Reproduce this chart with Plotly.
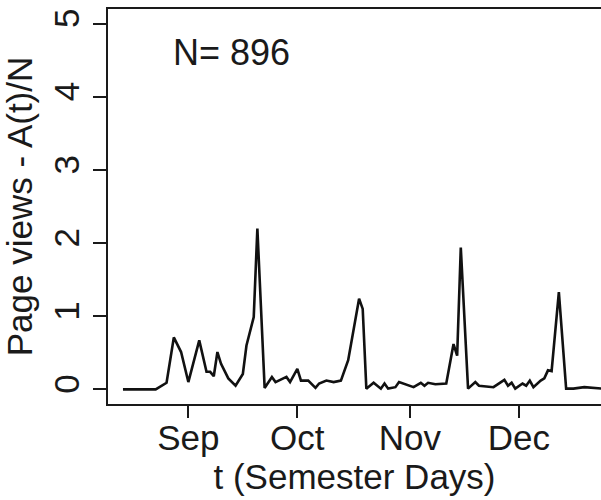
import plotly.graph_objects as go

# Day of the semester (day 0 = first recorded day) and normalised page views A(t)/N
semester_day = [0, 9, 12, 14, 16, 18, 21, 23, 24, 25, 26, 27, 29, 31, 33, 34, 36, 37,
                39, 41, 42, 45, 46, 48, 49, 51, 53, 54, 56, 58, 60, 62, 65, 66, 67,
                69, 71, 72, 73, 75, 76, 78, 80, 82, 83, 84, 86, 89, 91, 92, 93, 95,
                97, 98, 102, 105, 106, 107, 108, 110, 111, 112, 113, 115, 116, 117,
                118, 120, 122, 124, 127, 132]
views_per_n = [0.00, 0.00, 0.09, 0.71, 0.51, 0.10, 0.67, 0.24, 0.24, 0.18, 0.51, 0.35,
               0.15, 0.05, 0.21, 0.60, 0.99, 2.20, 0.02, 0.17, 0.10, 0.17, 0.10, 0.28,
               0.12, 0.12, 0.02, 0.08, 0.12, 0.10, 0.12, 0.40, 1.24, 1.10, 0.01, 0.09,
               0.01, 0.08, 0.01, 0.03, 0.10, 0.07, 0.03, 0.09, 0.05, 0.09, 0.07, 0.08,
               0.62, 0.46, 1.94, 0.01, 0.10, 0.05, 0.03, 0.13, 0.05, 0.09, 0.01, 0.08,
               0.05, 0.12, 0.03, 0.12, 0.15, 0.26, 0.25, 1.33, 0.01, 0.01, 0.03, 0.01]

# Month boundaries on the semester-day axis
month_days = [18, 48, 79, 109]
month_labels = ["Sep", "Oct", "Nov", "Dec"]
y_ticks = [0, 1, 2, 3, 4, 5]

n_students = 896

FONT = "Liberation Sans, Arial, Helvetica, sans-serif"
INK = "#1a1a1a"
FS = 35

fig = go.Figure()
fig.add_trace(go.Scatter(
    x=semester_day, y=views_per_n, mode="lines",
    line=dict(color="#111111", width=2.6),
    showlegend=False, hoverinfo="skip",
))

fig.add_annotation(
    x=0.128, y=0.89, xref="paper", yref="paper",
    text=f"N= {n_students}", showarrow=False,
    xanchor="left", yanchor="middle",
    font=dict(family=FONT, size=36, color=INK),
)

fig.update_layout(
    width=601, height=500,
    margin=dict(l=108, r=0, t=9, b=96),
    paper_bgcolor="white", plot_bgcolor="white",
    font=dict(family=FONT, size=FS, color=INK),
    xaxis=dict(
        range=[-4.12, 131.6],
        tickmode="array", tickvals=month_days, ticktext=month_labels,
        ticks="outside", ticklen=12, tickwidth=1.5, tickcolor=INK,
        ticklabelstandoff=-10,
        showline=True, linecolor=INK, linewidth=1.5, mirror=True,
        showgrid=False, zeroline=False,
        title=dict(text="t (Semester Days)", standoff=5,
                   font=dict(family=FONT, size=FS, color=INK)),
        tickfont=dict(family=FONT, size=FS, color=INK),
    ),
    yaxis=dict(
        range=[-0.2, 5.2],
        tickmode="array", tickvals=y_ticks,
        ticks="outside", ticklen=13, tickwidth=1.5, tickcolor=INK,
        tickangle=-90, ticklabelstandoff=0,
        showline=True, linecolor=INK, linewidth=1.5,
        showgrid=False, zeroline=False,
        title=dict(text="Page views - A(t)/N", standoff=5,
                   font=dict(family=FONT, size=FS, color=INK)),
        tickfont=dict(family=FONT, size=FS, color=INK),
    ),
)

fig.write_html("out.html")
